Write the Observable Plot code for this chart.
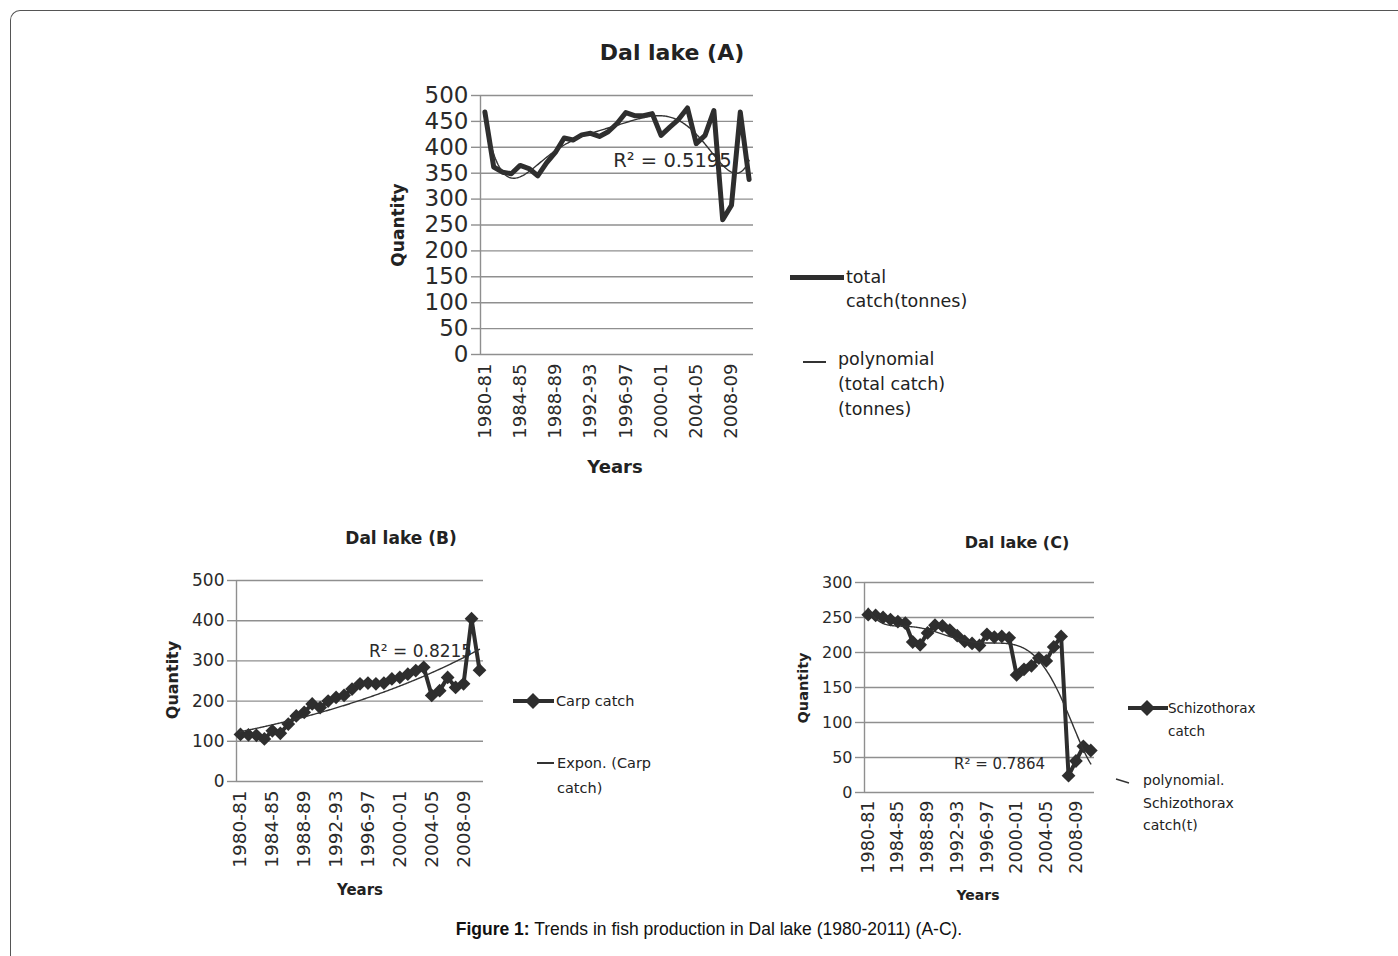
<!DOCTYPE html>
<html><head><meta charset="utf-8">
<script src="https://cdn.jsdelivr.net/npm/d3@7"></script>
<script src="https://cdn.jsdelivr.net/npm/@observablehq/plot@0.6"></script>
<style>
body{margin:0;background:#fff}
#page{position:relative;width:1398px;height:956px;overflow:hidden;background:#fff;font-family:"DejaVu Sans",sans-serif;color:#222}
.abs{position:absolute}
.c{position:absolute;transform:translate(-50%,-50%);white-space:nowrap}
.rot{position:absolute;transform:translate(-50%,-50%) rotate(-90deg);white-space:nowrap}
.b{font-weight:bold}
.lg{position:absolute;white-space:nowrap;color:#222}
</style></head><body>
<div id="page">
  <div class="abs" style="left:10px;top:10px;width:1400px;height:960px;border-top:1px solid #555;border-left:1px solid #555;border-top-left-radius:10px"></div>

  <div class="c b" style="left:672px;top:52px;font-size:22px">Dal lake (A)</div>
  <div class="c b" style="left:401px;top:538px;font-size:17px">Dal lake (B)</div>
  <div class="c b" style="left:1017px;top:542px;font-size:16px">Dal lake (C)</div>

  <div class="rot b" style="left:398px;top:225px;font-size:17px">Quantity</div>
  <div class="rot b" style="left:172px;top:680px;font-size:16px">Quantity</div>
  <div class="rot b" style="left:803px;top:688px;font-size:14.5px">Quantity</div>

  <div class="c b" style="left:615px;top:466px;font-size:18px">Years</div>
  <div class="c b" style="left:360px;top:890px;font-size:15px">Years</div>
  <div class="c b" style="left:978px;top:895px;font-size:14px">Years</div>

  <div id="chartA" class="abs" style="left:380px;top:85px"></div>
  <div id="chartB" class="abs" style="left:150px;top:570px"></div>
  <div id="chartC" class="abs" style="left:780px;top:572px"></div>

  <!-- legend A -->
  <div class="abs" style="left:790px;top:275px;width:54px;height:5px;background:#2e2e2e"></div>
  <div class="lg" style="left:846px;top:265px;font-size:17.5px;line-height:24px">total<br>catch(tonnes)</div>
  <div class="abs" style="left:803px;top:361px;width:23px;height:1.5px;background:#333"></div>
  <div class="lg" style="left:838px;top:347px;font-size:17.5px;line-height:25px">polynomial<br>(total catch)<br>(tonnes)</div>

  <!-- legend B -->
  <svg class="abs" style="left:510px;top:690px" width="46" height="22"><line x1="3" x2="44" y1="11" y2="11" stroke="#2e2e2e" stroke-width="4"/><path d="M23,3 L31,11 L23,19 L15,11 Z" fill="#2e2e2e"/></svg>
  <div class="lg" style="left:556px;top:691px;font-size:14.5px;line-height:20px">Carp catch</div>
  <div class="abs" style="left:537px;top:762px;width:17px;height:1.5px;background:#333"></div>
  <div class="lg" style="left:557px;top:751px;font-size:14.5px;line-height:25px">Expon. (Carp<br>catch)</div>

  <!-- legend C -->
  <svg class="abs" style="left:1125px;top:697px" width="44" height="22"><line x1="3" x2="43" y1="11" y2="11" stroke="#2e2e2e" stroke-width="4"/><path d="M22,3 L30,11 L22,19 L14,11 Z" fill="#2e2e2e"/></svg>
  <div class="lg" style="left:1168px;top:697px;font-size:13.5px;line-height:23px">Schizothorax<br>catch</div>
  <svg class="abs" style="left:1114px;top:776px" width="18" height="10"><line x1="2" x2="15" y1="3" y2="7" stroke="#333" stroke-width="1.4"/></svg>
  <div class="lg" style="left:1143px;top:769px;font-size:14px;line-height:22.5px">polynomial.<br>Schizothorax<br>catch(t)</div>

  <div class="c" style="left:709px;top:929px;font-family:'Liberation Sans',Arial,sans-serif;font-size:17.5px;color:#111"><b>Figure 1:</b> Trends in fish production in Dal lake (1980-2011) (A-C).</div>
</div>
<script>
// ---- data ----
const years = ["1980-81","1981-82","1982-83","1983-84","1984-85","1985-86","1986-87","1987-88",
  "1988-89","1989-90","1990-91","1991-92","1992-93","1993-94","1994-95","1995-96","1996-97",
  "1997-98","1998-99","1999-00","2000-01","2001-02","2002-03","2003-04","2004-05","2005-06",
  "2006-07","2007-08","2008-09","2009-10","2010-11"];
const xTickIdx = [1, 5, 9, 13, 17, 21, 25, 29];

// Dal lake (A): total catch (tonnes)
const totalCatch = [468, 362, 352, 349, 365, 359, 345, 370, 390, 418, 414, 424, 427, 421, 430, 446,
  467, 461, 461, 465, 423, 439, 454, 476, 407, 423, 471, 260, 288, 468, 338];
// Dal lake (B): carp catch
const carpCatch = [117, 116, 115, 106, 126, 120, 143, 163, 172, 193, 184, 200, 209, 214, 230, 243,
  245, 243, 245, 255, 259, 267, 276, 284, 214, 226, 259, 234, 243, 405, 277];
// Dal lake (C): Schizothorax catch
const schizoCatch = [254, 253, 250, 247, 244, 242, 215, 211, 228, 239, 238, 232, 224, 216, 213, 210,
  226, 222, 223, 221, 168, 176, 181, 192, 188, 208, 223, 24, 45, 66, 60];

const yTicksA = [0, 50, 100, 150, 200, 250, 300, 350, 400, 450, 500];
const yTicksB = [0, 100, 200, 300, 400, 500];
const yTicksC = [0, 50, 100, 150, 200, 250, 300];

const r2LabelA = "R² = 0.5195";
const r2LabelB = "R² = 0.8215";
const r2LabelC = "R² = 0.7864";

// ---- trend fitting (least squares, as in the spreadsheet trendlines) ----
function polyFit(ys, order) {
  const n = ys.length, m = (1 + n) / 2, s = (n - 1) / 2, k = order + 1;
  const A = Array.from({length: k}, () => new Array(k + 1).fill(0));
  ys.forEach((y, i) => {
    const t = (i + 1 - m) / s;
    const p = Array.from({length: k}, (_, j) => Math.pow(t, j));
    for (let a = 0; a < k; a++) { for (let b = 0; b < k; b++) A[a][b] += p[a] * p[b]; A[a][k] += p[a] * y; }
  });
  for (let c = 0; c < k; c++) {
    let piv = c; for (let r = c + 1; r < k; r++) if (Math.abs(A[r][c]) > Math.abs(A[piv][c])) piv = r;
    [A[c], A[piv]] = [A[piv], A[c]];
    for (let r = 0; r < k; r++) if (r !== c) { const f = A[r][c] / A[c][c]; for (let q = c; q <= k; q++) A[r][q] -= f * A[c][q]; }
  }
  const coef = A.map((row, i) => row[k] / row[i]);
  return x => { const t = (x - m) / s; return coef.reduce((acc, c, j) => acc + c * Math.pow(t, j), 0); };
}
function expFit(ys) {
  const xs = ys.map((_, i) => i + 1), ls = ys.map(Math.log);
  const mx = d3.mean(xs), ml = d3.mean(ls);
  const b = d3.sum(xs, (x, i) => (x - mx) * (ls[i] - ml)) / d3.sum(xs, x => (x - mx) ** 2);
  const a = ml - b * mx;
  return x => Math.exp(a + b * x);
}

const fitA = polyFit(totalCatch, 6);
const fitB = expFit(carpCatch);
const fitC = polyFit(schizoCatch, 6);

function makeChart({values, yTicks, yMax, frameW, frameH, ml, yFont, xFont, xPad, lineW, markers, fit, r2, r2x, r2y, r2Font}) {
  const data = values.map((v, i) => ({x: i + 1, y: v}));
  const trend = d3.range(1, values.length + 0.001, 0.1).map(x => ({x, y: fit(x)}));
  return Plot.plot({
    width: ml + frameW + 20, height: 10 + frameH + 100,
    marginLeft: ml, marginRight: 20, marginTop: 10, marginBottom: 100,
    x: {type: "linear", domain: [0.5, values.length + 0.5]},
    y: {type: "linear", domain: [0, yMax]},
    style: {fontFamily: '"DejaVu Sans", sans-serif', background: "transparent", color: "#2a2a2a", overflow: "visible"},
    marks: [
      Plot.gridY(yTicks, {stroke: "#8f8f8f", strokeOpacity: 1, strokeWidth: 1.4}),
      Plot.axisY(yTicks, {tickSize: 9, stroke: "#8f8f8f", strokeWidth: 1.4, tickPadding: 3, fontSize: yFont, label: null}),
      Plot.ruleX([0.5], {stroke: "#8f8f8f", strokeWidth: 1.4}),
      Plot.axisX(xTickIdx, {tickSize: 0, tickRotate: -90, tickPadding: xPad, fontSize: xFont, tickFormat: i => years[i - 1], label: null}),
      Plot.line(data, {x: "x", y: "y", stroke: "#2e2e2e", strokeWidth: lineW, strokeLinejoin: "round"}),
      markers ? Plot.dot(data, {x: "x", y: "y", symbol: "diamond2", r: 6.2, fill: "#2e2e2e"}) : null,
      Plot.line(trend, {x: "x", y: "y", stroke: "#333", strokeWidth: 1.4}),
      Plot.text([r2], {x: () => r2x, y: () => r2y, text: d => d, fontSize: r2Font, fill: "#2a2a2a"})
    ]
  });
}

document.getElementById("chartA").append(makeChart({values: totalCatch, yTicks: yTicksA, yMax: 500,
  frameW: 273, frameH: 259, ml: 100, yFont: 23, xFont: 18, xPad: 9, lineW: 5, markers: false,
  fit: fitA, r2: r2LabelA, r2x: 22.3, r2y: 374, r2Font: 19.5}));
document.getElementById("chartB").append(makeChart({values: carpCatch, yTicks: yTicksB, yMax: 500,
  frameW: 247, frameH: 201, ml: 86, yFont: 17, xFont: 18.5, xPad: 9, lineW: 4, markers: true,
  fit: fitB, r2: r2LabelB, r2x: 23.6, r2y: 323, r2Font: 17}));
document.getElementById("chartC").append(makeChart({values: schizoCatch, yTicks: yTicksC, yMax: 300,
  frameW: 230, frameH: 210, ml: 84, yFont: 16, xFont: 17.5, xPad: 8, lineW: 4, markers: true,
  fit: fitC, r2: r2LabelC, r2x: 18.7, r2y: 40, r2Font: 15}));
</script>
</body></html>
